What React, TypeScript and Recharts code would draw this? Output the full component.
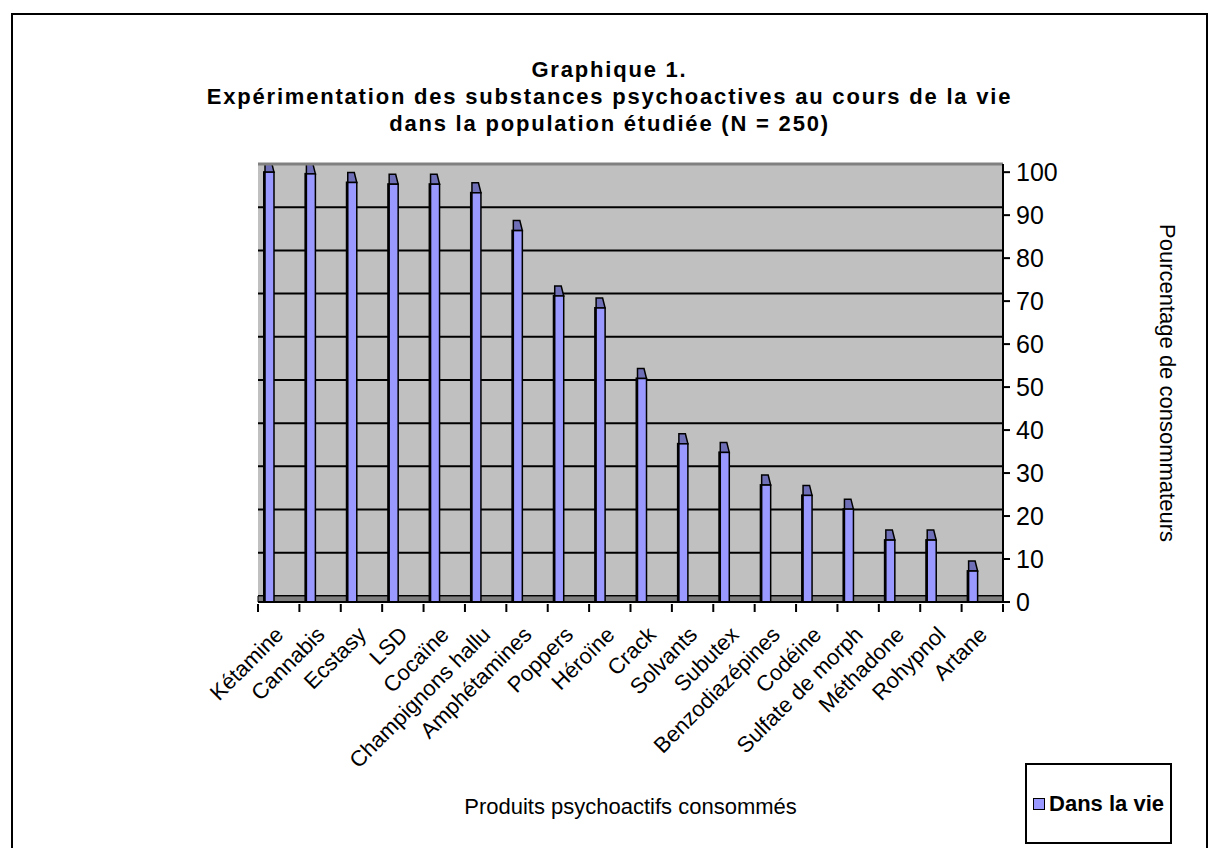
import React from "react";
import {
  BarChart,
  Bar,
  XAxis,
  YAxis,
  CartesianGrid,
  ReferenceArea,
  ReferenceLine,
  Legend,
  Label,
} from "recharts";

const products = [
  "Kétamine",
  "Cannabis",
  "Ecstasy",
  "LSD",
  "Cocaïne",
  "Champignons hallu",
  "Amphétamines",
  "Poppers",
  "Héroïne",
  "Crack",
  "Solvants",
  "Subutex",
  "Benzodiazépines",
  "Codéine",
  "Sulfate de morph",
  "Méthadone",
  "Rohypnol",
  "Artane",
];

// % of the 250 people who ever used each product
const lifetimePct = [
  100, 99.6, 97.6, 97.2, 97.2, 95.2, 86.4, 71.2, 68.4, 52, 36.8, 34.8, 27.2,
  24.8, 21.6, 14.4, 14.4, 7.2,
];

const pctTicks = [0, 10, 20, 30, 40, 50, 60, 70, 80, 90, 100];
const wallTicks = [0, 10, 20, 30, 40, 50, 60, 70, 80, 90];

const titleLines = [
  "Graphique 1.",
  "Expérimentation des substances psychoactives au cours de la vie",
  "dans la population étudiée (N = 250)",
];

const data = products.map((name, i) => ({ name, vie: lifetimePct[i] }));

const FONT = '"Liberation Sans", Arial, sans-serif';

// fake 3d column: front face + top face, pushed back a little in the band
function Column3D(props: any) {
  const { x, y, width, height } = props;
  if (!height || height <= 0) return null;
  const left = x - 9;
  const depth = 10;
  return (
    <g>
      <rect x={left - 2} y={y - 1} width={2.5} height={height + 1} fill="#000" />
      <polygon
        points={`${left},${y} ${left + width},${y} ${left + width - 2.5},${y - depth} ${left},${y - depth}`}
        fill="#6f6fb8"
        stroke="#000"
        strokeWidth={1.5}
      />
      <rect
        x={left}
        y={y}
        width={width}
        height={height}
        fill="#9999ff"
        stroke="#000"
        strokeWidth={1.5}
      />
    </g>
  );
}

function ProductTick(props: any) {
  const { x, y, payload, index } = props;
  const half = payload.offset || 20.7;
  const last = index === products.length - 1;
  return (
    <g>
      <line x1={x - half} y1={y + 2} x2={x - half} y2={y + 10} stroke="#000" strokeWidth={2} />
      {last && (
        <line x1={x + half} y1={y + 2} x2={x + half} y2={y + 10} stroke="#000" strokeWidth={2} />
      )}
      <text
        x={0}
        y={0}
        transform={`translate(${x + 6},${y + 34}) rotate(-45)`}
        textAnchor="end"
        fontSize={22}
        fontFamily={FONT}
        fill="#000"
      >
        {payload.value}
      </text>
    </g>
  );
}

function LegendBox() {
  return (
    <div
      style={{
        boxSizing: "border-box",
        width: "100%",
        height: "100%",
        border: "2px solid #000",
        background: "#fff",
        display: "flex",
        alignItems: "center",
        justifyContent: "flex-end",
        paddingRight: 6,
        fontFamily: FONT,
        fontWeight: "bold",
        fontSize: 22,
        color: "#000",
      }}
    >
      <span
        style={{
          display: "inline-block",
          width: 10,
          height: 10,
          background: "#9999ff",
          border: "1px solid #000",
          marginRight: 4,
        }}
      />
      Dans la vie
    </div>
  );
}

export default function App() {
  return (
    <div
      style={{
        position: "absolute",
        left: 0,
        top: 0,
        width: 1217,
        height: 848,
        overflow: "hidden",
        background: "#fff",
        fontFamily: FONT,
      }}
    >
      <div
        style={{
          position: "absolute",
          left: 11,
          top: 13,
          width: 1193,
          height: 860,
          border: "2px solid #000",
        }}
      />
      <div
        style={{
          position: "absolute",
          left: 11,
          top: 56,
          width: 1197,
          textAlign: "center",
          fontWeight: "bold",
          fontSize: 22,
          lineHeight: "27px",
          letterSpacing: 1.8,
          color: "#000",
        }}
      >
        {titleLines.map((t) => (
          <div key={t}>{t}</div>
        ))}
      </div>
      <BarChart
        width={1217}
        height={848}
        data={data}
        margin={{ top: 164, right: 134, bottom: 0, left: 258 }}
        barSize={9}
        style={{ position: "absolute", left: 0, top: 0 }}
      >
        <YAxis yAxisId="back" hide domain={[-1.4, 100]} ticks={wallTicks} allowDataOverflow />
        <YAxis
          yAxisId="front"
          orientation="right"
          width={80}
          domain={[0, 101.9]}
          ticks={pctTicks}
          allowDataOverflow
          interval={0}
          axisLine={{ stroke: "#000", strokeWidth: 2 }}
          tickLine={{ stroke: "#000", strokeWidth: 2 }}
          tickSize={7}
          tickMargin={6}
          tick={{ fontSize: 25, fill: "#000", fontFamily: FONT, textAnchor: "start" }}
        >
          <Label
            content={({ viewBox }: any) => {
              const cx = viewBox.x + viewBox.width + 84;
              const cy = viewBox.y + viewBox.height / 2;
              return (
                <text
                  x={cx}
                  y={cy}
                  transform={`rotate(90, ${cx}, ${cy})`}
                  textAnchor="middle"
                  dominantBaseline="central"
                  fontSize={22}
                  fontFamily={FONT}
                  fill="#000"
                >
                  Pourcentage de consommateurs
                </text>
              );
            }}
          />
        </YAxis>
        <XAxis
          dataKey="name"
          interval={0}
          height={246}
          tickLine={false}
          tickSize={0}
          tickMargin={0}
          axisLine={{ stroke: "#000", strokeWidth: 2 }}
          tick={<ProductTick />}
        >
          <Label
            content={({ viewBox }: any) => (
              <text
                x={viewBox.x + viewBox.width / 2}
                y={814}
                textAnchor="middle"
                fontSize={22}
                fontFamily={FONT}
                fill="#000"
              >
                Produits psychoactifs consommés
              </text>
            )}
          />
        </XAxis>
        <CartesianGrid
          yAxisId="back"
          vertical={false}
          fill="#c0c0c0"
          stroke="#000"
          strokeWidth={2}
        />
        <ReferenceArea
          yAxisId="back"
          y1={-1.4}
          y2={0}
          fill="#808080"
          fillOpacity={1}
          stroke="#000"
          strokeWidth={1}
        />
        <ReferenceLine yAxisId="back" y={100} stroke="#808080" strokeWidth={3} />
        <Legend
          layout="horizontal"
          align="center"
          verticalAlign="middle"
          wrapperStyle={{ left: 1025, top: 763, width: 147, height: 81 }}
          content={() => <LegendBox />}
        />
        <Bar
          yAxisId="front"
          dataKey="vie"
          name="Dans la vie"
          fill="#9999ff"
          shape={<Column3D />}
          isAnimationActive={false}
        />
      </BarChart>
    </div>
  );
}
